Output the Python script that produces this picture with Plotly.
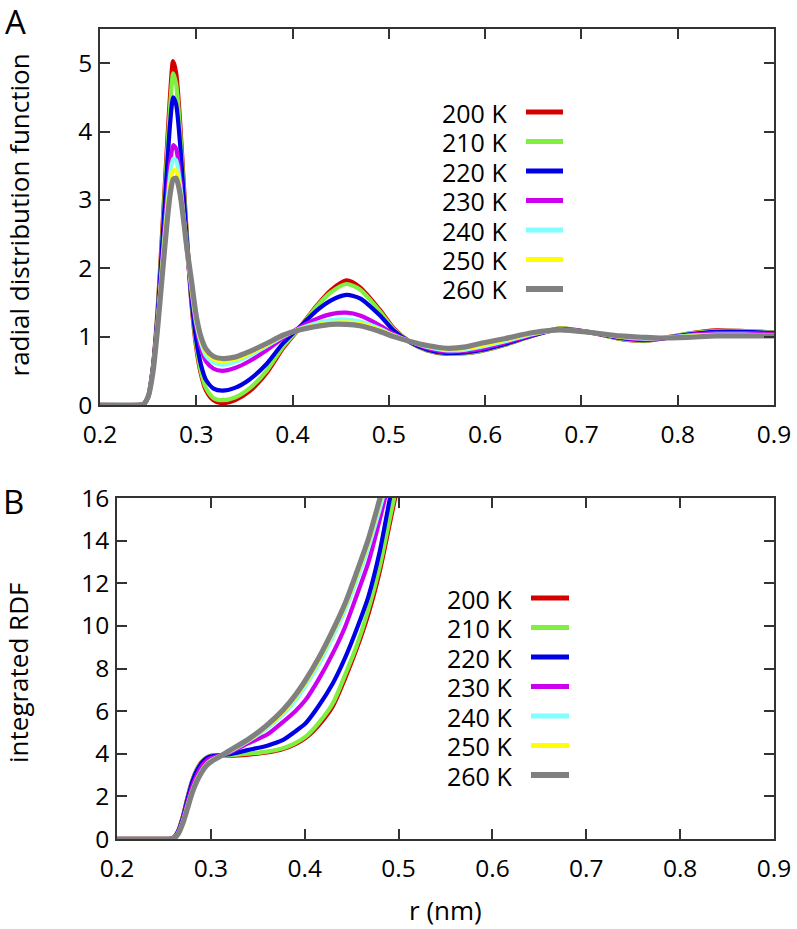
import plotly.graph_objects as go

# ---------------- data ----------------
temps = ["200 K", "210 K", "220 K", "230 K", "240 K", "250 K", "260 K"]
colors = ["#d40000", "#80f040", "#0000e6", "#cc00ee", "#80ffff", "#ffff00", "#808080"]

r_rdf = [0.200, 0.240, 0.245, 0.250, 0.255, 0.260, 0.265, 0.270, 0.273, 0.276, 0.279,
         0.283, 0.287, 0.290, 0.295, 0.300, 0.305, 0.310, 0.318, 0.327, 0.340, 0.355,
         0.373, 0.390, 0.408, 0.425, 0.440, 0.456, 0.470, 0.490, 0.505, 0.522, 0.540,
         0.560, 0.580, 0.595, 0.620, 0.650, 0.678, 0.710, 0.740, 0.765, 0.782, 0.810,
         0.840, 0.870, 0.900]

g_200 = [0, 0, 0.01, 0.12, 0.55, 1.4, 2.6, 3.85, 4.55, 5.03, 4.85,
         4.15, 3.2, 2.5, 1.5, 0.85, 0.45, 0.22, 0.07, 0.03, 0.07, 0.2,
         0.47, 0.83, 1.14, 1.45, 1.68, 1.82, 1.72, 1.40, 1.12, 0.92, 0.80,
         0.75, 0.76, 0.79, 0.88, 1.02, 1.12, 1.06, 0.97, 0.94, 0.97, 1.04,
         1.09, 1.08, 1.06]
g_210 = [0, 0, 0.01, 0.12, 0.55, 1.38, 2.55, 3.75, 4.4, 4.85, 4.7,
         4.05, 3.15, 2.5, 1.52, 0.88, 0.48, 0.25, 0.1, 0.07, 0.11, 0.24,
         0.5, 0.85, 1.14, 1.44, 1.65, 1.77, 1.69, 1.38, 1.11, 0.92, 0.80,
         0.75, 0.76, 0.79, 0.88, 1.02, 1.12, 1.06, 0.97, 0.94, 0.97, 1.04,
         1.08, 1.08, 1.06]
g_220 = [0, 0, 0.01, 0.12, 0.55, 1.35, 2.45, 3.55, 4.15, 4.5, 4.4,
         3.85, 3.05, 2.45, 1.55, 0.95, 0.58, 0.37, 0.24, 0.21, 0.25, 0.37,
         0.6, 0.9, 1.15, 1.38, 1.53, 1.61, 1.56, 1.32, 1.09, 0.92, 0.81,
         0.76, 0.77, 0.80, 0.89, 1.02, 1.11, 1.06, 0.98, 0.95, 0.97, 1.03,
         1.07, 1.07, 1.05]
g_230 = [0, 0, 0.01, 0.12, 0.52, 1.25, 2.2, 3.1, 3.55, 3.8, 3.75,
         3.35, 2.75, 2.3, 1.65, 1.15, 0.82, 0.64, 0.53, 0.5, 0.54, 0.64,
         0.8, 0.98, 1.14, 1.26, 1.33, 1.35, 1.31, 1.17, 1.04, 0.93, 0.83,
         0.78, 0.79, 0.82, 0.91, 1.03, 1.11, 1.06, 0.99, 0.96, 0.97, 1.02,
         1.05, 1.05, 1.04]
g_240 = [0, 0, 0.01, 0.12, 0.5, 1.22, 2.12, 2.95, 3.38, 3.6, 3.58,
         3.25, 2.72, 2.3, 1.7, 1.2, 0.9, 0.72, 0.62, 0.59, 0.63, 0.72,
         0.86, 1.0, 1.12, 1.2, 1.24, 1.25, 1.22, 1.12, 1.02, 0.93, 0.85,
         0.80, 0.81, 0.85, 0.93, 1.04, 1.10, 1.06, 1.0, 0.97, 0.98, 1.01,
         1.03, 1.03, 1.02]
g_250 = [0, 0, 0.01, 0.12, 0.5, 1.2, 2.05, 2.85, 3.22, 3.43, 3.43,
         3.15, 2.68, 2.3, 1.75, 1.25, 0.95, 0.78, 0.67, 0.64, 0.67, 0.75,
         0.88, 1.01, 1.11, 1.17, 1.2, 1.21, 1.19, 1.1, 1.01, 0.93, 0.86,
         0.82, 0.83, 0.87, 0.95, 1.05, 1.10, 1.06, 1.0, 0.98, 0.98, 1.0,
         1.02, 1.02, 1.01]
g_260 = [0, 0, 0.01, 0.12, 0.48, 1.15, 1.95, 2.72, 3.1, 3.3, 3.32,
         3.1, 2.68, 2.32, 1.82, 1.3, 0.99, 0.82, 0.71, 0.68, 0.7, 0.78,
         0.9, 1.02, 1.1, 1.15, 1.18, 1.18, 1.16, 1.08, 1.0, 0.93, 0.87,
         0.83, 0.85, 0.9, 0.97, 1.06, 1.10, 1.06, 1.01, 0.99, 0.98, 0.99,
         1.01, 1.01, 1.01]

r_int = [0.200, 0.250, 0.255, 0.260, 0.265, 0.270, 0.275, 0.280, 0.285, 0.290,
         0.295, 0.300, 0.310, 0.320, 0.340, 0.360, 0.377, 0.390, 0.401, 0.415,
         0.430, 0.443, 0.455, 0.468, 0.480, 0.490, 0.500, 0.510]

n_200 = [0, 0, 0, 0.05, 0.35, 1.0, 1.9, 2.7, 3.25, 3.6,
         3.8, 3.9, 3.93, 3.92, 3.97, 4.07, 4.23, 4.46, 4.75, 5.35,
         6.25, 7.55, 8.9, 10.6, 12.6, 14.7, 16.8, 18.9]
n_210 = [0, 0, 0, 0.05, 0.35, 1.0, 1.9, 2.7, 3.25, 3.6,
         3.8, 3.9, 3.93, 3.93, 4.0, 4.1, 4.26, 4.5, 4.8, 5.45,
         6.37, 7.7, 9.03, 10.8, 12.8, 14.9, 17.0, 19.1]
n_220 = [0, 0, 0, 0.05, 0.34, 0.98, 1.86, 2.65, 3.2, 3.56,
         3.78, 3.88, 3.93, 3.98, 4.18, 4.38, 4.65, 5.05, 5.43, 6.25,
         7.31, 8.5, 9.81, 11.4, 13.5, 15.8, 18.0, 20.2]
n_230 = [0, 0, 0, 0.04, 0.3, 0.9, 1.7, 2.45, 3.0, 3.4,
         3.66, 3.8, 3.92, 4.05, 4.5, 4.9, 5.5, 6.0, 6.53, 7.5,
         8.72, 9.95, 11.38, 13.0, 15.0, 16.8, 18.6, 20.4]
n_240 = [0, 0, 0, 0.03, 0.26, 0.8, 1.55, 2.25, 2.8, 3.2,
         3.5, 3.68, 3.9, 4.1, 4.6, 5.2, 5.85, 6.5, 7.2, 8.2,
         9.5, 10.75, 12.1, 13.7, 15.5, 17.1, 18.7, 20.3]
n_250 = [0, 0, 0, 0.02, 0.24, 0.76, 1.48, 2.2, 2.75, 3.15,
         3.45, 3.65, 3.89, 4.12, 4.64, 5.28, 5.96, 6.65, 7.35, 8.38,
         9.68, 10.92, 12.32, 13.95, 15.8, 17.4, 18.9, 20.4]
n_260 = [0, 0, 0, 0.02, 0.22, 0.72, 1.42, 2.15, 2.7, 3.12,
         3.42, 3.62, 3.88, 4.15, 4.68, 5.35, 6.06, 6.75, 7.46, 8.5,
         9.8, 11.05, 12.47, 14.1, 15.95, 17.5, 19.0, 20.5]

x_ticks = [0.2, 0.3, 0.4, 0.5, 0.6, 0.7, 0.8, 0.9]
y_ticks_a = [0, 1, 2, 3, 4, 5]
y_ticks_b = [0, 2, 4, 6, 8, 10, 12, 14, 16]

g_all = [g_200, g_210, g_220, g_230, g_240, g_250, g_260]
n_all = [n_200, n_210, n_220, n_230, n_240, n_250, n_260]

# ---------------- figure ----------------
W, H = 797, 929
FONT = "Open Sans"
fig = go.Figure()

widths = [4.5, 4.2, 4.2, 4.2, 4.2, 4.2, 5.2]
for i, t in enumerate(temps):
    fig.add_trace(go.Scatter(x=r_rdf, y=g_all[i], mode="lines", name=t,
                             line=dict(color=colors[i], width=widths[i], shape="spline", smoothing=0.7),
                             xaxis="x", yaxis="y", showlegend=False))
for i, t in enumerate(temps):
    fig.add_trace(go.Scatter(x=r_int, y=n_all[i], mode="lines", name=t,
                             line=dict(color=colors[i], width=widths[i], shape="spline", smoothing=0.7),
                             xaxis="x2", yaxis="y2", showlegend=False))

def px(x):
    return x / W

def py(y):
    return 1 - y / H

axis_common = dict(showline=True, linecolor="#333333", linewidth=1.6, mirror="ticks",
                   ticks="inside", ticklen=10, tickwidth=1.6, tickcolor="#333333",
                   showgrid=False, zeroline=False, automargin=False,
                   tickfont=dict(family=FONT, size=24.5, color="black"))

fig.update_layout(
    template="none",
    width=W, height=H, margin=dict(l=0, r=0, t=0, b=0, pad=0, autoexpand=False),
    paper_bgcolor="white", plot_bgcolor="white",
    xaxis=dict(domain=[px(100), px(774)], range=[0.2, 0.9], tickvals=x_ticks,
               ticktext=[f"{v:.1f}" for v in x_ticks], anchor="y",
               ticklabelstandoff=7, **axis_common),
    yaxis=dict(domain=[py(405), py(29)], range=[0, 5.5], tickvals=y_ticks_a,
               anchor="x", ticklabelstandoff=1, **axis_common),
    xaxis2=dict(domain=[px(117), px(774)], range=[0.2, 0.9], tickvals=x_ticks,
                ticktext=[f"{v:.1f}" for v in x_ticks], anchor="y2",
                ticklabelstandoff=7, **axis_common),
    yaxis2=dict(domain=[py(839), py(498)], range=[0, 16], tickvals=y_ticks_b,
                anchor="x2", ticklabelstandoff=1, **axis_common),
)

ann = []
shapes = []
# panel letters
ann.append(dict(text="A", x=px(15.5), y=py(21), xref="paper", yref="paper", xanchor="center",
                yanchor="middle", showarrow=False, font=dict(family=FONT, size=33, color="black")))
ann.append(dict(text="B", x=px(13.5), y=py(501), xref="paper", yref="paper", xanchor="center",
                yanchor="middle", showarrow=False, font=dict(family=FONT, size=33, color="black")))
# axis titles
ann.append(dict(text="radial distribution function", x=px(18.5), y=py(215), xref="paper", yref="paper",
                xanchor="center", yanchor="middle",
                textangle=-90, showarrow=False, font=dict(family=FONT, size=26, color="black")))
ann.append(dict(text="integrated RDF", x=px(18), y=py(673), xref="paper", yref="paper",
                xanchor="center", yanchor="middle",
                textangle=-90, showarrow=False, font=dict(family=FONT, size=26, color="black")))
ann.append(dict(text="r (nm)", x=px(446), y=py(910), xref="paper", yref="paper",
                xanchor="center", yanchor="middle",
                showarrow=False, font=dict(family=FONT, size=26, color="black")))

# legends (text then line sample, gnuplot style)
for (tx, lx0, lx1, y0) in [(508, 526, 563, 112), (513, 531, 569, 598)]:
    for i, t in enumerate(temps):
        yy = y0 + 29.5 * i
        ann.append(dict(text=t, x=px(tx), y=py(yy), xref="paper", yref="paper", xanchor="right",
                        yanchor="middle", showarrow=False, height=27, borderpad=0,
                        font=dict(family=FONT, size=25, color="black")))
        shapes.append(dict(type="line", xref="paper", yref="paper", x0=px(lx0), x1=px(lx1),
                           y0=py(yy), y1=py(yy), line=dict(color=colors[i], width=5 if i < 6 else 6)))

fig.update_layout(annotations=ann, shapes=shapes)
fig.write_html("out.html", config={"displayModeBar": False},
               post_script="document.body.style.margin='0px';document.body.style.overflow='hidden';")
